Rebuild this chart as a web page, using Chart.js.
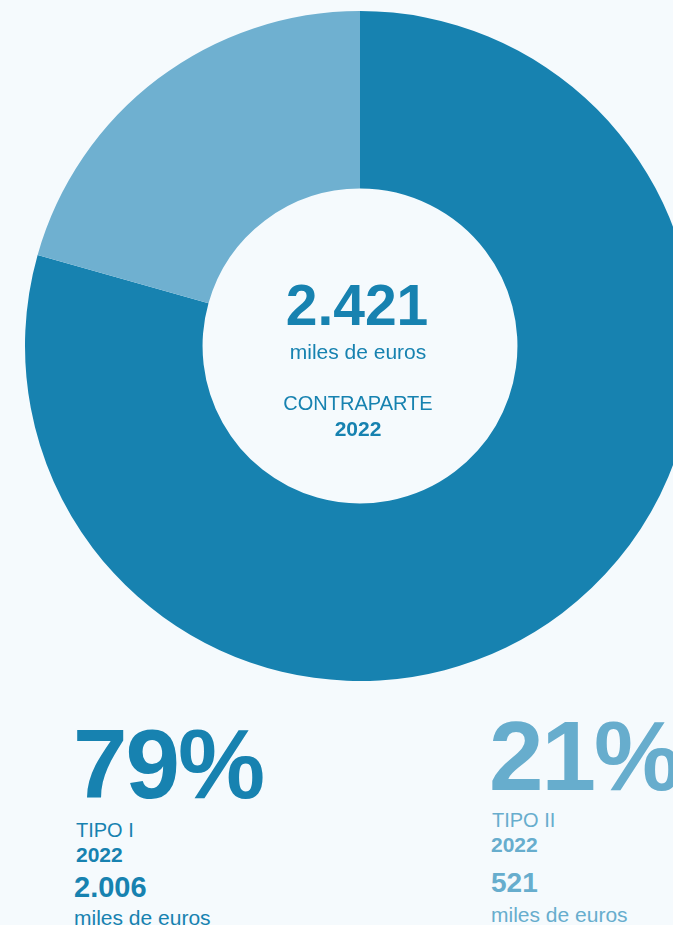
<!DOCTYPE html>
<html>
<head>
<meta charset="utf-8">
<script src="https://cdn.jsdelivr.net/npm/chart.js@4/dist/chart.umd.min.js"></script>
<style>
  html, body { margin:0; padding:0; width:673px; height:925px; overflow:hidden; background:#F5FAFD; }
  body { position:relative; font-family:"Liberation Sans", Arial, sans-serif; }
  #wrap { position:absolute; left:0; top:0; width:720px; height:692px; }
  .t { position:absolute; line-height:1; white-space:nowrap; }
  .c { transform:translateX(-50%); text-align:center; }
  .dark { color:#1782B0; }
  .light { color:#67ADCD; }
  .b { font-weight:bold; }
</style>
</head>
<body>
<div id="wrap"><canvas id="chart" width="720" height="692"></canvas></div>

<div class="t c dark b" id="total" style="left:357px; top:277px; font-size:57px;"></div>
<div class="t c dark" id="unitC" style="left:358px; top:341px; font-size:21px;"></div>
<div class="t c dark" id="title" style="left:358px; top:393px; font-size:20px;"></div>
<div class="t c dark b" id="yearC" style="left:358px; top:418px; font-size:21px;"></div>

<div class="t dark b" id="pct0" style="left:73px; top:715px; font-size:98px; letter-spacing:-2px;"></div>
<div class="t dark" id="cat0" style="left:76px; top:820px; font-size:20px;"></div>
<div class="t dark b" id="year0" style="left:76px; top:844px; font-size:21px;"></div>
<div class="t dark b" id="val0" style="left:74px; top:873px; font-size:29px;"></div>
<div class="t dark" id="unit0" style="left:74px; top:907px; font-size:21px;"></div>

<div class="t light b" id="pct1" style="left:489px; top:707px; font-size:98px; letter-spacing:-2px;"></div>
<div class="t light" id="cat1" style="left:492px; top:810px; font-size:20px;"></div>
<div class="t light b" id="year1" style="left:491px; top:834px; font-size:21px;"></div>
<div class="t light b" id="val1" style="left:491px; top:869px; font-size:28px;"></div>
<div class="t light" id="unit1" style="left:491px; top:904px; font-size:21px;"></div>

<script>
const categories = ['TIPO I', 'TIPO II'];
const values = [2006, 521];
const valueLabels = ['2.006', '521'];
const percentLabels = ['79%', '21%'];
const colors = ['#1782B0', '#6FB0D0'];
const year = '2022';
const totalLabel = '2.421';
const unitLabel = 'miles de euros';
const centerTitle = 'CONTRAPARTE';

document.getElementById('total').textContent = totalLabel;
document.getElementById('unitC').textContent = unitLabel;
document.getElementById('title').textContent = centerTitle;
document.getElementById('yearC').textContent = year;
for (let i = 0; i < categories.length; i++) {
  document.getElementById('pct' + i).textContent = percentLabels[i];
  document.getElementById('cat' + i).textContent = categories[i];
  document.getElementById('year' + i).textContent = year;
  document.getElementById('val' + i).textContent = valueLabels[i];
  document.getElementById('unit' + i).textContent = unitLabel;
}

new Chart(document.getElementById('chart'), {
  type: 'doughnut',
  data: {
    labels: categories,
    datasets: [{
      data: values,
      backgroundColor: colors,
      borderWidth: 0,
      hoverOffset: 0
    }]
  },
  options: {
    responsive: false,
    animation: false,
    cutout: '47%',
    layout: { padding: { left: 25, right: 25, top: 11, bottom: 11 } },
    plugins: { legend: { display: false }, tooltip: { enabled: false } }
  }
});
</script>
</body>
</html>
